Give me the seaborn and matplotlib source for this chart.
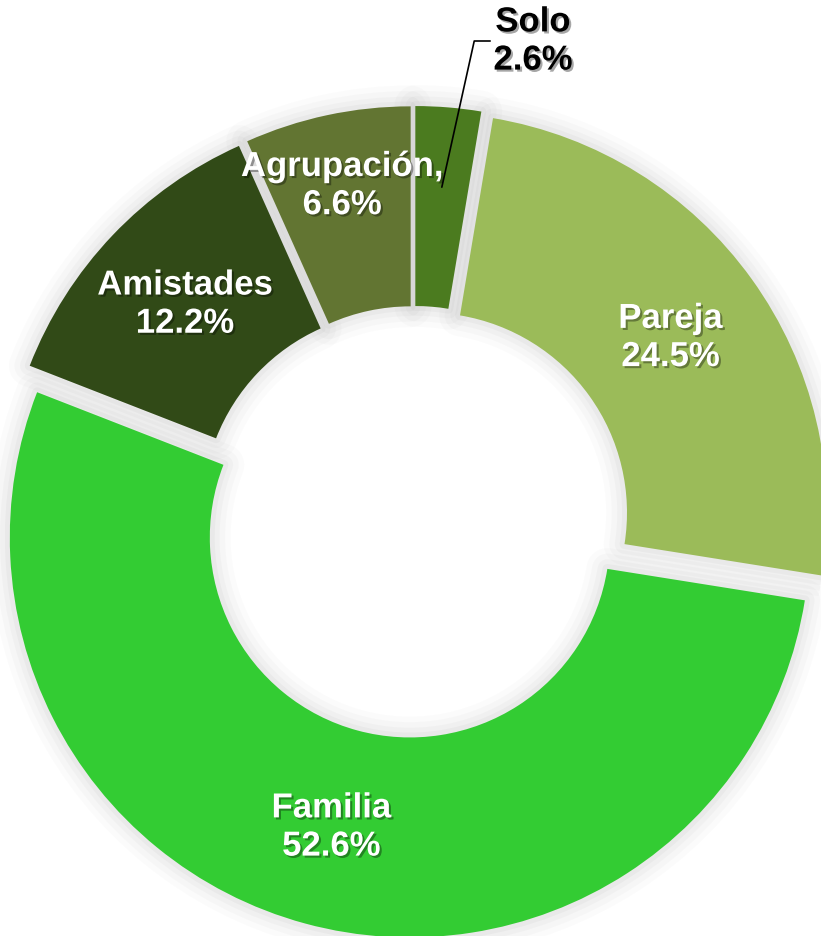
import matplotlib
matplotlib.use('Agg')
import matplotlib.pyplot as plt
import matplotlib.patheffects as pe
import numpy as np
import seaborn as sns

# datos del gráfico
categorias = ['Solo', 'Pareja', 'Familia', 'Amistades', 'Agrupación']
porcentajes = [2.6, 24.5, 52.6, 12.2, 6.6]
etiquetas = ['Solo\n2.6%', 'Pareja\n24.5%', 'Familia\n52.6%',
             'Amistades\n12.2%', 'Agrupación,\n6.6%']
colores = ['#4b7b1f', '#9bbb59', '#33cc33', '#314a17', '#627532']

sns.set_theme(style='white')
plt.rcParams['font.family'] = ['Liberation Sans', 'DejaVu Sans']

fig = plt.figure(figsize=(8.21, 9.37), dpi=100)
ax = fig.add_axes([0, 0, 1, 1])

explode = [0.04] * len(porcentajes)
kw = dict(startangle=90, counterclock=False, explode=explode, radius=1)

# sombra difusa alrededor de cada sector
for lw, a in [(30, 0.025), (22, 0.03), (14, 0.04), (7, 0.05)]:
    ax.pie(porcentajes, colors=colores,
           wedgeprops=dict(width=0.5, facecolor='none', edgecolor='#707070',
                           linewidth=lw, alpha=a, joinstyle='round'), **kw)

wedges, _ = ax.pie(porcentajes, colors=colores,
                   wedgeprops=dict(width=0.5, linewidth=0), **kw)

sombra = [pe.withSimplePatchShadow(offset=(1.5, -1.5), shadow_rgbFace='black', alpha=0.35)]

for w, cat, lab in zip(wedges, categorias, etiquetas):
    ang = np.deg2rad((w.theta1 + w.theta2) / 2)
    cx, cy = w.center
    if cat == 'Solo':
        px = cx + 0.80 * np.cos(ang)
        py = cy + 0.80 * np.sin(ang)
        ax.annotate(lab, xy=(px, py), xytext=(0.2975, 1.2025),
                    ha='center', va='center', fontsize=25, fontweight='bold',
                    color='black', path_effects=sombra,
                    arrowprops=dict(arrowstyle='-', color='black', lw=1.2,
                                    connectionstyle='angle,angleA=180,angleB=77.5,rad=0',
                                    shrinkA=0, shrinkB=0))
        continue
    r = 0.82 if cat == 'Agrupación' else 0.75
    ax.text(cx + r * np.cos(ang), cy + r * np.sin(ang), lab,
            ha='center', va='center', fontsize=25, fontweight='bold',
            color='white', linespacing=1.2, path_effects=sombra)

ax.set_xlim(-1.035, 1.0175)
ax.set_ylim(-1.035, 1.3075)
ax.set_aspect('equal')
ax.axis('off')

fig.savefig('out.png', dpi=100)
